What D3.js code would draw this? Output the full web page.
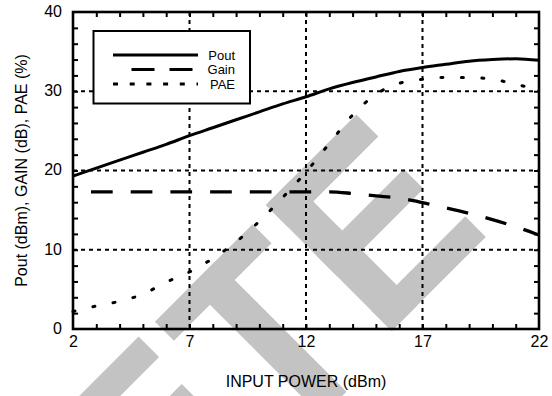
<!DOCTYPE html>
<html><head><meta charset="utf-8">
<script src="https://cdn.jsdelivr.net/npm/d3@7"></script>
<style>
body{margin:0;background:#fff}
svg{display:block}
text{font-family:"Liberation Sans",Arial,Helvetica,sans-serif;fill:#000}
</style>
</head><body>
<svg id="chart" width="552" height="396"></svg>
<script>
// ---- data ----
const inputPower = [2,3,4,5,6,7,8,9,10,11,12,13,14,15,16,17,18,19,20,21,22];
const pout = [19.3,20.3,21.3,22.3,23.3,24.4,25.4,26.4,27.4,28.4,29.3,30.3,31.1,31.8,32.5,33.0,33.4,33.8,34.0,34.1,33.9];
const gain = [17.3,17.3,17.3,17.3,17.3,17.3,17.3,17.3,17.3,17.3,17.3,17.3,17.1,16.8,16.5,15.95,15.3,14.6,13.8,12.9,11.85];
const pae  = [2.2,2.9,3.5,4.4,5.9,7.2,8.9,11.0,13.6,16.6,19.8,23.4,27.0,29.6,31.0,31.5,31.75,31.75,31.5,30.9,30.1];
const seriesNames = ["Pout","Gain","PAE"];
const xTickLabels = [2,7,12,17,22];
const yTickLabels = [0,10,20,30,40];
const xTitle = "INPUT POWER (dBm)";
const yTitle = "Pout (dBm), GAIN (dB), PAE (%)";

// ---- layout ----
const L = 73, R = 539, T = 12, B = 329;
const svg = d3.select("#chart");
svg.append("rect").attr("width",552).attr("height",396).attr("fill","#fff");

const x = d3.scaleLinear().domain([2,22]).range([L,R]);
const y = d3.scaleLinear().domain([0,40]).range([B,T]);

// ---- watermark (decorative, rotated letters) ----
const wm = svg.append("g").attr("transform","rotate(-45)").attr("fill","#c3c3c3");
const wmRects = [
  // right E
  [43,333,36,178],[43,333,128,31],[43,405,123,28],[43,482,133,29],
  // T
  [-118,337,138,27],[-67,337,35,185],
  // left E (partially visible)
  [-300,336,160,29],[-300,400,157,28]
];
wmRects.forEach(r=>wm.append("rect").attr("x",r[0]).attr("y",r[1]).attr("width",r[2]).attr("height",r[3]));

// ---- grid ----
const grid = svg.append("g").attr("stroke","#000").attr("stroke-width",2).attr("stroke-dasharray","4,4");
[7,12,17].forEach(v=>grid.append("line").attr("x1",x(v)).attr("x2",x(v)).attr("y1",T).attr("y2",B));
[10,20,30].forEach(v=>grid.append("line").attr("x1",L).attr("x2",R).attr("y1",y(v)).attr("y2",y(v)));

// ---- legend box ----
svg.append("rect").attr("x",93.5).attr("y",31).attr("width",156.5).attr("height",72.5)
  .attr("fill","#fff").attr("stroke","#000").attr("stroke-width",2);

// ---- series ----
const line = d3.line().x((d,i)=>x(inputPower[i])).y(d=>y(d)).curve(d3.curveMonotoneX);
const styles = [
  {data:pout, dash:null, w:3, cap:"butt", off:0},
  {data:gain, dash:"21.7,18", w:3.3, cap:"butt", off:21.7},
  {data:pae,  dash:"2,18.5", w:3, cap:"round", off:0}
];
styles.forEach(s=>{
  const p = svg.append("path").attr("d",line(s.data)).attr("fill","none")
    .attr("stroke","#000").attr("stroke-width",s.w).attr("stroke-linecap",s.cap);
  if(s.dash) p.attr("stroke-dasharray",s.dash).attr("stroke-dashoffset",s.off);
});

// legend entries
const legY = [55, 69.5, 84];
const legDash = [null,"23,15","5,11.7"];
const legStart = [113,131.5,113];
seriesNames.forEach((n,i)=>{
  const l = svg.append("line").attr("x1",legStart[i]).attr("x2",198).attr("y1",legY[i]).attr("y2",legY[i])
    .attr("stroke","#000").attr("stroke-width",i==2?3:3);
  if(legDash[i]) l.attr("stroke-dasharray",legDash[i]);
  svg.append("text").attr("x",235).attr("y",legY[i]+4.5).attr("text-anchor","end")
    .attr("font-size",13).text(n);
});

// ---- frame ----
svg.append("rect").attr("x",L).attr("y",T).attr("width",R-L).attr("height",B-T)
  .attr("fill","none").attr("stroke","#000").attr("stroke-width",2.6);

// ---- minor ticks ----
function minor(g){ g.select(".domain").remove(); g.selectAll("line").attr("stroke","#000").attr("stroke-width",2); g.selectAll("text").remove(); }
svg.append("g").attr("transform",`translate(0,${B})`)
  .call(d3.axisBottom(x).tickValues(d3.range(3,22)).tickSize(-5).tickFormat("")).call(minor);
svg.append("g").attr("transform",`translate(0,${T})`)
  .call(d3.axisTop(x).tickValues(d3.range(3,22)).tickSize(-5).tickFormat("")).call(minor);
svg.append("g").attr("transform",`translate(${L},0)`)
  .call(d3.axisLeft(y).tickValues(d3.range(2,40,2)).tickSize(-5).tickFormat("")).call(minor);
svg.append("g").attr("transform",`translate(${R},0)`)
  .call(d3.axisRight(y).tickValues(d3.range(2,40,2)).tickSize(-5).tickFormat("")).call(minor);

// ---- tick labels ----
const xa = svg.append("g").attr("transform",`translate(0,${B})`)
  .call(d3.axisBottom(x).tickValues(xTickLabels).tickSize(0).tickPadding(7));
xa.select(".domain").remove();
xa.selectAll("text").attr("font-size",16).attr("font-family",null);
const ya = svg.append("g").attr("transform",`translate(${L},0)`)
  .call(d3.axisLeft(y).tickValues(yTickLabels).tickSize(0).tickPadding(11));
ya.select(".domain").remove();
ya.selectAll("text").attr("font-size",16).attr("font-family",null).attr("dy","0.28em");

// ---- titles ----
svg.append("text").attr("x",(L+R)/2).attr("y",387).attr("text-anchor","middle")
  .attr("font-size",16).text(xTitle);
svg.append("text").attr("transform",`translate(27,${(T+B)/2}) rotate(-90)`)
  .attr("text-anchor","middle").attr("font-size",16).text(yTitle);
</script>
</body></html>
